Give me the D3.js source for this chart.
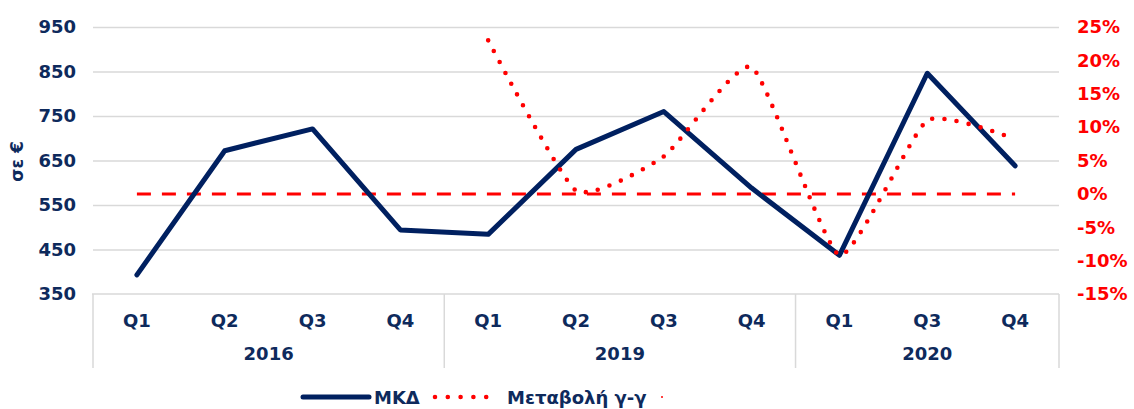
<!DOCTYPE html>
<html>
<head>
<meta charset="utf-8">
<script src="https://cdn.jsdelivr.net/npm/d3@7/dist/d3.min.js"></script>
<style>
  html, body { margin: 0; padding: 0; background: #fff; }
  svg { display: block; }
  text { font-family: "DejaVu Sans", Verdana, sans-serif; font-weight: bold; }
</style>
</head>
<body>
<svg id="chart" width="1134" height="409"></svg>
<script>
// ---- data ----
const quarters = ["Q1", "Q2", "Q3", "Q4", "Q1", "Q2", "Q3", "Q4", "Q1", "Q3", "Q4"];
const years    = ["2016", "2016", "2016", "2016", "2019", "2019", "2019", "2019", "2020", "2020", "2020"];
const yearGroups = ["2016", "2019", "2020"];
const mkd = [393, 672, 721, 494, 484, 675, 760, 588, 437, 846, 638];
const yoy = [null, null, null, null, 23, 0.5, 5.6, 19, -9.2, 11, 8.2];
const zeroLine = [0, 0, 0, 0, 0, 0, 0, 0, 0, 0, 0];
const leftTicks = [350, 450, 550, 650, 750, 850, 950];
const rightTicks = [-15, -10, -5, 0, 5, 10, 15, 20, 25];
const seriesNames = ["ΜΚΔ", "Μεταβολή γ-γ", " "];
const yAxisTitle = "σε €";

// ---- layout ----
const navy = "#0E2A5C";
const lineNavy = "#002060";
const red = "#FF0000";
const grid = "#D9D9D9";
const L = 93, R = 1059, T = 27, B = 294;
const catBottom = 368;

const svg = d3.select("#chart");
const keys = quarters.map((q, i) => years[i] + "-" + q);
const x = d3.scaleBand().domain(keys).range([L, R]).padding(0);
const cx = i => x(keys[i]) + x.bandwidth() / 2;
const yL = d3.scaleLinear().domain([350, 950]).range([B, T]);
const yR = d3.scaleLinear().domain([-15, 25]).range([B, T]);

// gridlines
const gGrid = svg.append("g").attr("transform", `translate(${L},0)`)
  .call(d3.axisLeft(yL).tickValues(leftTicks.filter(v => v > 350)).tickSize(-(R - L)).tickFormat(""));
gGrid.select(".domain").remove();
gGrid.selectAll("line").attr("stroke", grid).attr("stroke-width", 1.5);

// left axis labels
const gL = svg.append("g").attr("transform", `translate(${L - 17},0)`)
  .call(d3.axisLeft(yL).tickValues(leftTicks).tickSize(0).tickPadding(0).tickFormat(d3.format("d")));
gL.select(".domain").remove();
gL.selectAll("text").attr("fill", navy).style("font-size", "18px").style("font-family", "'DejaVu Sans', Verdana, sans-serif").style("font-weight", "bold");

// right axis labels
const gR = svg.append("g").attr("transform", `translate(${R + 18},0)`)
  .call(d3.axisRight(yR).tickValues(rightTicks).tickSize(0).tickPadding(0).tickFormat(d => d + "%"));
gR.select(".domain").remove();
gR.selectAll("text").attr("fill", red).style("font-size", "18px").style("font-family", "'DejaVu Sans', Verdana, sans-serif").style("font-weight", "bold");

// y axis title
svg.append("text")
  .attr("transform", `translate(23,${(T + B) / 2 + 1}) rotate(-90)`)
  .attr("text-anchor", "middle")
  .attr("fill", navy)
  .style("font-size", "17px")
  .text(yAxisTitle);

// category axis box
const gX = svg.append("g").attr("transform", `translate(0,${B})`)
  .call(d3.axisBottom(x).tickSize(0).tickPadding(20).tickFormat((d, i) => quarters[i]));
gX.select(".domain").remove();
gX.selectAll("text").attr("fill", navy).style("font-size", "18px").style("font-family", "'DejaVu Sans', Verdana, sans-serif").style("font-weight", "bold");

svg.append("line").attr("x1", L - 1).attr("x2", R).attr("y1", B).attr("y2", B)
  .attr("stroke", grid).attr("stroke-width", 1.5);
const groupEdges = [L];
yearGroups.forEach(yr => {
  const idx = years.map((y, i) => y === yr ? i : -1).filter(i => i >= 0);
  groupEdges.push(x(keys[idx[idx.length - 1]]) + x.bandwidth());
  const mid = (x(keys[idx[0]]) + x(keys[idx[idx.length - 1]]) + x.bandwidth()) / 2;
  svg.append("text").attr("x", mid).attr("y", 360).attr("text-anchor", "middle")
    .attr("fill", navy).style("font-size", "18px").text(yr);
});
groupEdges.forEach(e => {
  svg.append("line").attr("x1", e).attr("x2", e).attr("y1", B).attr("y2", catBottom)
    .attr("stroke", grid).attr("stroke-width", 1.5);
});

// zero dashed line
svg.append("path")
  .datum(zeroLine.map((v, i) => [cx(i), yR(v)]))
  .attr("d", d3.line())
  .attr("fill", "none").attr("stroke", red).attr("stroke-width", 3)
  .attr("stroke-dasharray", "14 11");

// MKD line
svg.append("path")
  .datum(mkd.map((v, i) => [cx(i), yL(v)]))
  .attr("d", d3.line())
  .attr("fill", "none").attr("stroke", lineNavy).attr("stroke-width", 5)
  .attr("stroke-linejoin", "round").attr("stroke-linecap", "round");

// yoy dotted line (smoothed)
svg.append("path")
  .datum(yoy.map((v, i) => [cx(i), v]).filter(d => d[1] !== null).map(d => [d[0], yR(d[1])]))
  .attr("d", d3.line().curve(d3.curveCardinal.tension(0.5)))
  .attr("fill", "none").attr("stroke", red).attr("stroke-width", 4.6)
  .attr("stroke-linecap", "round").attr("stroke-dasharray", "0 12.3");

// legend
const ly = 397;
const lg = svg.append("g");
lg.append("line").attr("x1", 303).attr("x2", 369).attr("y1", ly).attr("y2", ly)
  .attr("stroke", lineNavy).attr("stroke-width", 5).attr("stroke-linecap", "round");
lg.append("text").attr("x", 374).attr("y", ly + 6.5).attr("fill", navy).style("font-size", "18px").text(seriesNames[0]);
lg.append("line").attr("x1", 435).attr("x2", 499).attr("y1", ly).attr("y2", ly)
  .attr("stroke", red).attr("stroke-width", 4.6).attr("stroke-linecap", "round").attr("stroke-dasharray", "0 12.8");
lg.append("text").attr("x", 507).attr("y", ly + 6.5).attr("fill", navy).style("font-size", "18px").text(seriesNames[1]);
lg.append("line").attr("x1", 661).attr("x2", 663).attr("y1", ly).attr("y2", ly)
  .attr("stroke", red).attr("stroke-width", 1.5);
</script>
</body>
</html>
